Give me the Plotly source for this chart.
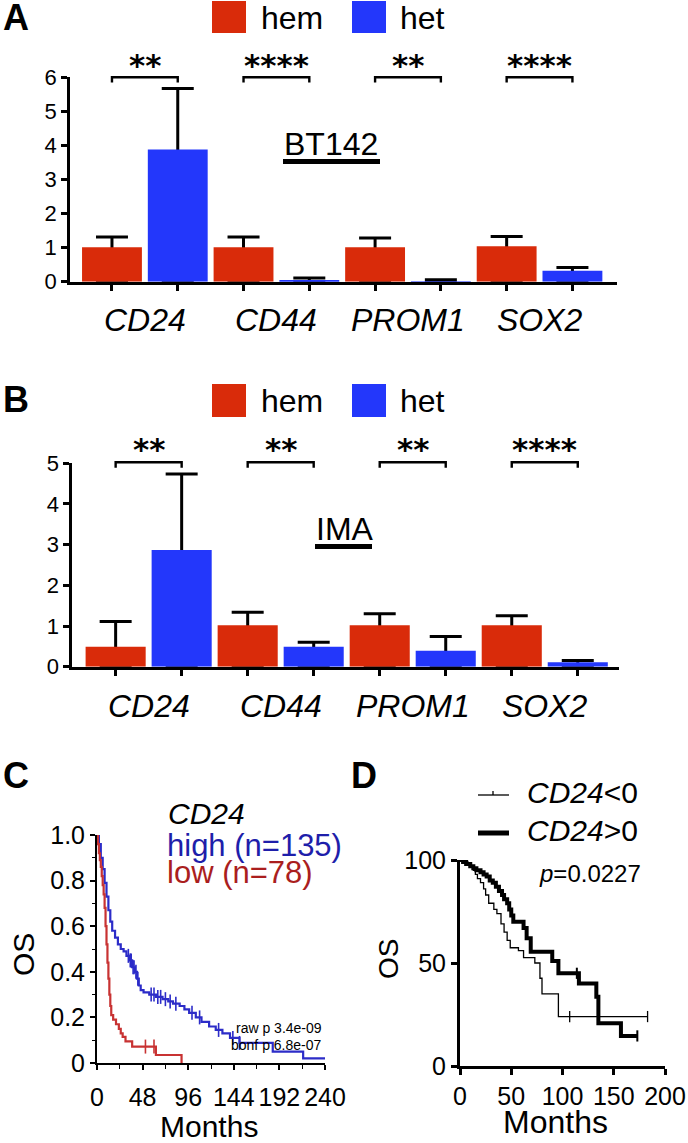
import numpy as np
import plotly.graph_objects as go

W, H = 688, 1143

# ---------------- data ----------------
genes = ["CD24", "CD44", "PROM1", "SOX2"]
group_names = ["hem", "het"]

a_hem = [1.01, 1.01, 1.01, 1.04]
a_hem_err = [0.30, 0.30, 0.27, 0.29]
a_het = [3.88, 0.05, 0.01, 0.32]
a_het_err = [1.79, 0.06, 0.05, 0.10]
a_sig = ["**", "****", "**", "****"]
a_yticks = [0, 1, 2, 3, 4, 5, 6]

b_hem = [0.49, 1.02, 1.02, 1.02]
b_hem_err = [0.62, 0.32, 0.28, 0.23]
b_het = [2.87, 0.49, 0.39, 0.11]
b_het_err = [1.87, 0.11, 0.35, 0.04]
b_sig = ["**", "**", "**", "****"]
b_yticks = [0, 1, 2, 3, 4, 5]

c_high_t = [0, 2, 4, 6, 8, 10, 12, 14, 16, 19, 22, 25, 28, 31, 34, 37, 40, 42, 44, 46, 49,
            55, 62, 69, 75, 80, 87, 92, 97, 104, 110, 118, 125, 132, 140, 150, 185, 217, 240]
c_high_s = [1.0, 0.96, 0.90, 0.85, 0.79, 0.73, 0.67, 0.62, 0.58, 0.55, 0.52, 0.50, 0.49, 0.47,
            0.45, 0.42, 0.40, 0.37, 0.34, 0.32, 0.31, 0.30, 0.29, 0.28, 0.27, 0.26, 0.25, 0.235,
            0.22, 0.20, 0.18, 0.16, 0.145, 0.13, 0.11, 0.088, 0.05, 0.02, 0.02]
c_high_cens = [33, 35, 36, 38, 39, 41, 43, 57, 60, 64, 67, 72, 77, 83, 100, 108, 128, 143, 150]
c_low_t = [0, 1, 2, 3, 4, 5, 6, 7, 8, 9, 10, 11, 12, 13, 14, 15, 17, 20, 23, 25, 27, 30, 37, 62, 89]
c_low_s = [1.0, 0.96, 0.92, 0.89, 0.86, 0.82, 0.78, 0.74, 0.68, 0.60, 0.52, 0.44, 0.37, 0.30,
           0.25, 0.21, 0.19, 0.17, 0.15, 0.13, 0.115, 0.095, 0.072, 0.035, 0.0]
c_low_cens = [51, 60]
c_xticks = [0, 48, 96, 144, 192, 240]
c_yticks = [0, 0.2, 0.4, 0.6, 0.8, 1.0]
c_yticktext = ["0", "0.2", "0.4", "0.6", "0.8", "1.0"]

d_pos_t = [0, 3, 6, 10, 13, 16, 20, 23, 26, 29, 32, 35, 38, 41, 43, 46, 48, 50, 52, 62,
           65, 69, 90, 96, 116, 133, 135, 157, 173]
d_pos_s = [100, 99, 98, 97, 96, 95, 94, 93, 92, 90, 89, 87, 85, 83, 81, 79, 76, 73, 70, 67,
           62, 55.5, 51, 45, 40, 33.6, 20.7, 14.6, 14.6]
d_pos_cens = [114, 173]
d_neg_t = [0, 4, 8, 10, 13, 15, 17, 20, 23, 25, 28, 33, 36, 40, 43, 46, 49, 57, 62, 73, 78, 80, 96, 183]
d_neg_s = [100, 99, 98, 97, 95, 93, 91, 89, 86, 83, 79, 76, 74, 69, 65, 61, 57.4, 56, 52.6, 50,
           42.6, 35, 24, 24]
d_neg_cens = [107, 183]
d_xticks = [0, 50, 100, 150, 200]
d_yticks = [0, 50, 100]

# ---------------- style ----------------
RED = "#d92b0a"
BLUE = "#2337fb"
C_BLUE_TXT = "#1e1eaa"
C_RED_TXT = "#aa1e1e"
C_BLUE_LN = "#2c2cc8"
C_RED_LN = "#c83232"
FONT = "Liberation Sans, Arial, Helvetica, sans-serif"
STARFONT = "DejaVu Sans, Liberation Sans, Arial, sans-serif"

# pixel frames of the panels (left, right, bottom, top) and axis ranges
A_BOX = dict(l=70.2, r=616.5, b=281.7, t=77.3, xr=(-0.635, 7.67), yr=(0, 6))
B_BOX = dict(l=72.4, r=618.7, b=666.7, t=463.3, xr=(-0.655, 7.62), yr=(0, 5))
C_BOX = dict(l=97, r=325, b=1063, t=835)
D_BOX = dict(l=460, r=665, b=1066, t=860)


def px(x):
    return x / W


def py(y):
    return 1 - y / H


def box_x(box, v):
    lo, hi = box["xr"]
    return box["l"] + (v - lo) / (hi - lo) * (box["r"] - box["l"])


def km_at(t, s, x):
    t = np.asarray(t)
    s = np.asarray(s)
    i = np.searchsorted(t, x, side="right") - 1
    return s[i]


fig = go.Figure()
annotations = []
shapes = []

n = len(genes)
hem_x = [2 * i for i in range(n)]
het_x = [2 * i + 1 for i in range(n)]
BW = 0.91


def bar_panel(xa, ya, hem, hem_err, het, het_err):
    for xs, vals, errs in ((hem_x, hem, hem_err), (het_x, het, het_err)):
        # error bars drawn first; lower whisker runs to zero and is hidden by the bar
        fig.add_trace(go.Bar(
            x=xs, y=vals, width=BW, xaxis=xa, yaxis=ya,
            marker=dict(color="rgba(0,0,0,0)", line=dict(width=0)),
            error_y=dict(type="data", symmetric=False, array=errs, arrayminus=vals,
                         color="black", thickness=3, width=16),
            showlegend=False, hoverinfo="skip"))
    for xs, vals, col in ((hem_x, hem, RED), (het_x, het, BLUE)):
        fig.add_trace(go.Bar(
            x=xs, y=vals, width=BW, xaxis=xa, yaxis=ya,
            marker=dict(color=col, line=dict(width=0)),
            showlegend=False, hoverinfo="skip"))


bar_panel("x", "y", a_hem, a_hem_err, a_het, a_het_err)
bar_panel("x2", "y2", b_hem, b_hem_err, b_het, b_het_err)

# C: KM curves
fig.add_trace(go.Scatter(x=c_high_t, y=c_high_s, mode="lines", line=dict(color=C_BLUE_LN, width=2.2, shape="hv"),
                         xaxis="x3", yaxis="y3", showlegend=False, hoverinfo="skip", cliponaxis=False))
fig.add_trace(go.Scatter(x=c_low_t, y=c_low_s, mode="lines", line=dict(color=C_RED_LN, width=2.2, shape="hv"),
                         xaxis="x3", yaxis="y3", showlegend=False, hoverinfo="skip", cliponaxis=False))
fig.add_trace(go.Scatter(x=c_high_cens, y=km_at(c_high_t, c_high_s, c_high_cens), mode="markers",
                         marker=dict(symbol="line-ns-open", size=10, color=C_BLUE_LN,
                                     line=dict(color=C_BLUE_LN, width=1.6)),
                         xaxis="x3", yaxis="y3", showlegend=False, hoverinfo="skip"))
fig.add_trace(go.Scatter(x=c_low_cens, y=km_at(c_low_t, c_low_s, c_low_cens), mode="markers",
                         marker=dict(symbol="line-ns-open", size=10, color=C_RED_LN,
                                     line=dict(color=C_RED_LN, width=1.6)),
                         xaxis="x3", yaxis="y3", showlegend=False, hoverinfo="skip"))

# D: KM curves
fig.add_trace(go.Scatter(x=d_neg_t, y=d_neg_s, mode="lines", line=dict(color="black", width=1.3, shape="hv"),
                         xaxis="x4", yaxis="y4", showlegend=False, hoverinfo="skip", cliponaxis=False))
fig.add_trace(go.Scatter(x=d_pos_t, y=d_pos_s, mode="lines", line=dict(color="black", width=4, shape="hv"),
                         xaxis="x4", yaxis="y4", showlegend=False, hoverinfo="skip", cliponaxis=False))
fig.add_trace(go.Scatter(x=d_neg_cens, y=km_at(d_neg_t, d_neg_s, d_neg_cens), mode="markers",
                         marker=dict(symbol="line-ns-open", size=8, color="black",
                                     line=dict(color="black", width=1.3)),
                         xaxis="x4", yaxis="y4", showlegend=False, hoverinfo="skip", cliponaxis=False))
fig.add_trace(go.Scatter(x=d_pos_cens, y=km_at(d_pos_t, d_pos_s, d_pos_cens), mode="markers",
                         marker=dict(symbol="line-ns-open", size=8, color="black",
                                     line=dict(color="black", width=2)),
                         xaxis="x4", yaxis="y4", showlegend=False, hoverinfo="skip", cliponaxis=False))


def ann(text, x, y, size, xanchor="left", yanchor="middle", color="black", family=FONT, angle=0):
    annotations.append(dict(text=text, x=px(x), y=py(y), xref="paper", yref="paper", showarrow=False,
                            xanchor=xanchor, yanchor=yanchor, textangle=angle,
                            font=dict(family=family, size=size, color=color)))


# ---------------- brackets, stars, gene labels ----------------
def bar_decor(box, sig, top_px, tip_px, star_px, label_px):
    for i, g in enumerate(genes):
        x0 = box_x(box, hem_x[i])
        x1 = box_x(box, het_x[i])
        shapes.append(dict(type="path", xref="paper", yref="paper",
                           path=f"M {px(x0)},{py(tip_px)} L {px(x0)},{py(top_px)} "
                                f"L {px(x1)},{py(top_px)} L {px(x1)},{py(tip_px)}",
                           line=dict(color="black", width=2.4)))
        ann(f"<b>{sig[i]}</b>", (x0 + x1) / 2, star_px, 31, xanchor="center", family=STARFONT)
        ann(f"<i>{g}</i>", (x0 + x1) / 2, label_px, 32, xanchor="center")


bar_decor(A_BOX, a_sig, 77.3, 82.5, 65, 320)
bar_decor(B_BOX, b_sig, 462.3, 467.7, 449, 706)


def legend_bar(ytop, ybot, ytxt):
    shapes.append(dict(type="rect", xref="paper", yref="paper", x0=px(212), x1=px(246), y0=py(ybot), y1=py(ytop),
                       fillcolor=RED, line=dict(width=0)))
    shapes.append(dict(type="rect", xref="paper", yref="paper", x0=px(352), x1=px(386), y0=py(ybot), y1=py(ytop),
                       fillcolor=BLUE, line=dict(width=0)))
    ann(group_names[0], 259, ytxt, 32)
    ann(group_names[1], 398, ytxt, 32)


legend_bar(1, 33, 18)
legend_bar(384, 417, 401)

# panel letters
ann("<b>A</b>", 1, 18, 36)
ann("<b>B</b>", 1, 400, 36)
ann("<b>C</b>", 1, 775, 36)
ann("<b>D</b>", 349, 775, 36)

# panel titles
ann("BT142", 331, 144, 32, xanchor="center")
shapes.append(dict(type="line", xref="paper", yref="paper", x0=px(283), x1=px(380), y0=py(161.5), y1=py(161.5),
                   line=dict(color="black", width=5)))
ann("IMA", 345, 529, 32, xanchor="center")
shapes.append(dict(type="line", xref="paper", yref="paper", x0=px(315), x1=px(372), y0=py(546.5), y1=py(546.5),
                   line=dict(color="black", width=5)))

# C texts
ann("<i>CD24</i>", 166, 813, 30)
ann("high (n=135)", 165, 845, 31, color=C_BLUE_TXT)
ann("low (n=78)", 165, 872, 31, color=C_RED_TXT)
ann("raw p 3.4e-09", 324, 1028, 14, xanchor="right")
ann("bonf p 6.8e-07", 324, 1045, 14, xanchor="right")
ann("OS", 23, 954, 30, xanchor="center", angle=-90)
ann("Months", 209, 1126, 30, xanchor="center")

# D texts / legend
shapes.append(dict(type="line", xref="paper", yref="paper", x0=px(478), x1=px(509), y0=py(795), y1=py(795),
                   line=dict(color="black", width=1.3)))
shapes.append(dict(type="line", xref="paper", yref="paper", x0=px(493), x1=px(493), y0=py(795), y1=py(791),
                   line=dict(color="black", width=1.3)))
shapes.append(dict(type="line", xref="paper", yref="paper", x0=px(478), x1=px(509), y0=py(833), y1=py(833),
                   line=dict(color="black", width=5)))
ann("<i>CD24</i>&lt;0", 525, 792, 30)
ann("<i>CD24</i>&gt;0", 525, 830, 30)
ann("<i>p</i>=0.0227", 537, 873, 24)
ann("OS", 388, 959, 28, xanchor="center", angle=-90)
ann("Months", 555, 1122, 32, xanchor="center")


# ---------------- axes ----------------
def bar_xaxis(box, anchor):
    return dict(domain=[px(box["l"]), px(box["r"])], range=list(box["xr"]), anchor=anchor, automargin=False,
                showline=True, linewidth=3, linecolor="black", showgrid=False, zeroline=False,
                tickmode="array", tickvals=hem_x + het_x, ticktext=[""] * (2 * n),
                ticks="outside", ticklen=6, tickwidth=3, tickcolor="black", fixedrange=True)


def bar_yaxis(box, vals, anchor):
    return dict(domain=[py(box["b"]), py(box["t"])], range=list(box["yr"]), anchor=anchor, automargin=False,
                showline=True, linewidth=3, linecolor="black", showgrid=False, zeroline=False,
                tickmode="array", tickvals=vals, ticks="outside", ticklen=6, tickwidth=3,
                tickcolor="black", tickfont=dict(family=FONT, size=22, color="black"), fixedrange=True)


layout = dict(
    template="none",
    width=W, height=H, margin=dict(l=0, r=0, t=0, b=0, pad=0),
    paper_bgcolor="white", plot_bgcolor="rgba(0,0,0,0)",
    barmode="overlay", showlegend=False,
    xaxis=bar_xaxis(A_BOX, "y"),
    yaxis=bar_yaxis(A_BOX, a_yticks, "x"),
    xaxis2=bar_xaxis(B_BOX, "y2"),
    yaxis2=bar_yaxis(B_BOX, b_yticks, "x2"),
    xaxis3=dict(domain=[px(C_BOX["l"]), px(C_BOX["r"])], range=[0, 240], anchor="y3", automargin=False,
                showline=True, linewidth=2, linecolor="black", showgrid=False, zeroline=False,
                tickmode="array", tickvals=c_xticks, ticks="outside", ticklen=5, tickwidth=1.6,
                tickcolor="black", tickfont=dict(family=FONT, size=25, color="black"), tickangle=0,
                ticklabelstandoff=6,
                minor=dict(tickmode="linear", tick0=0, dtick=24, ticks="outside", ticklen=4,
                           tickwidth=1.4, tickcolor="black"), fixedrange=True),
    yaxis3=dict(domain=[py(C_BOX["b"]), py(C_BOX["t"])], range=[0, 1.0], anchor="x3", automargin=False,
                showline=True, linewidth=2, linecolor="black", showgrid=False, zeroline=False,
                tickmode="array", tickvals=c_yticks, ticktext=c_yticktext, ticks="outside", ticklen=5,
                tickwidth=1.6, tickcolor="black", tickfont=dict(family=FONT, size=25, color="black"),
                minor=dict(tickmode="linear", tick0=0, dtick=0.1, ticks="outside", ticklen=3,
                           tickwidth=1.4, tickcolor="black"), fixedrange=True),
    xaxis4=dict(domain=[px(D_BOX["l"]), px(D_BOX["r"])], range=[0, 200], anchor="y4", automargin=False,
                showline=True, linewidth=3, linecolor="black", showgrid=False, zeroline=False,
                tickmode="array", tickvals=d_xticks, ticks="outside", ticklen=6, tickwidth=2.6,
                tickcolor="black", tickfont=dict(family=FONT, size=25, color="black"), tickangle=0,
                fixedrange=True),
    yaxis4=dict(domain=[py(D_BOX["b"]), py(D_BOX["t"])], range=[0, 100], anchor="x4", automargin=False,
                showline=True, linewidth=3, linecolor="black", showgrid=False, zeroline=False,
                tickmode="array", tickvals=d_yticks, ticks="outside", ticklen=6, tickwidth=2.6,
                tickcolor="black", tickfont=dict(family=FONT, size=25, color="black"), fixedrange=True),
    annotations=annotations,
    shapes=shapes,
)
fig.update_layout(**layout)

fig.write_html("out.html", config={"displayModeBar": False},
               post_script="document.body.style.margin='0';document.body.style.overflow='hidden';")
